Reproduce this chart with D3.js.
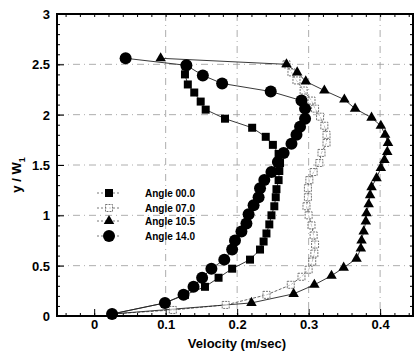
<!DOCTYPE html>
<html><head><meta charset="utf-8">
<script src="https://cdn.jsdelivr.net/npm/d3@7"></script>
<style>body{margin:0;background:#fff}svg{display:block}text{font-family:"Liberation Sans",Arial,sans-serif;font-weight:bold}</style>
</head><body>
<svg id="c" width="414" height="354"></svg>
<script>
// Data
const seriesNames = ["Angle 00.0","Angle 07.0","Angle 10.5","Angle 14.0"];
const xTicks = [0,0.1,0.2,0.3,0.4];
const xTickLabels = ["0","0.1","0.2","0.3","0.4"];
const yTicks = [0,0.5,1,1.5,2,2.5,3];
const yTickLabels = ["0","0.5","1","1.5","2","2.5","3"];

const a00x = [0.128,0.127,0.131,0.140,0.149,0.156,0.183,0.221,0.240,0.250,0.258,0.260,0.259,0.258,0.255,0.254,0.252,0.248,0.245,0.241,0.237,0.232,0.218,0.193,0.174,0.155,0.127,0.099,0.025];
const a00y = [2.48,2.40,2.30,2.22,2.13,2.05,1.96,1.87,1.78,1.70,1.61,1.52,1.44,1.35,1.26,1.18,1.09,1.00,0.91,0.82,0.74,0.66,0.56,0.47,0.38,0.29,0.21,0.13,0.02];

const a07x = [0.269,0.276,0.283,0.293,0.304,0.309,0.316,0.322,0.325,0.325,0.318,0.315,0.307,0.301,0.299,0.299,0.297,0.300,0.304,0.307,0.309,0.308,0.305,0.300,0.290,0.275,0.241,0.184,0.11,0.025];
const a07y = [2.50,2.42,2.34,2.24,2.14,2.06,1.98,1.89,1.80,1.72,1.62,1.52,1.43,1.35,1.27,1.18,1.09,1.00,0.90,0.80,0.71,0.62,0.54,0.46,0.39,0.31,0.21,0.11,0.06,0.02];

const a105x = [0.093,0.269,0.284,0.296,0.322,0.350,0.365,0.388,0.401,0.407,0.411,0.410,0.406,0.401,0.395,0.388,0.386,0.384,0.381,0.380,0.377,0.374,0.373,0.367,0.349,0.332,0.308,0.279,0.220,0.025];
const a105y = [2.56,2.50,2.42,2.33,2.24,2.15,2.06,1.97,1.89,1.80,1.72,1.63,1.55,1.47,1.37,1.28,1.20,1.11,1.02,0.94,0.84,0.75,0.67,0.57,0.48,0.40,0.31,0.22,0.13,0.02];

const a14x = [0.044,0.129,0.152,0.179,0.247,0.290,0.295,0.295,0.288,0.283,0.276,0.265,0.257,0.248,0.238,0.232,0.230,0.223,0.216,0.213,0.206,0.197,0.193,0.182,0.164,0.151,0.139,0.125,0.099,0.025];
const a14y = [2.56,2.49,2.39,2.31,2.23,2.14,2.06,1.96,1.88,1.80,1.71,1.62,1.53,1.43,1.35,1.27,1.18,1.10,1.01,0.92,0.84,0.75,0.66,0.56,0.47,0.38,0.29,0.21,0.13,0.02];

const L=57,R=413,T=14,B=316;
const x = d3.scaleLinear().domain([-0.052,0.446]).range([L,R]);
const y = d3.scaleLinear().domain([0,3]).range([B,T]);
const svg = d3.select("#c");

// grid
const g = svg.append("g");
g.selectAll(".gx").data(xTicks.filter(v=>v>0)).enter().append("line")
 .attr("x1",d=>x(d)).attr("x2",d=>x(d)).attr("y1",T).attr("y2",B)
 .attr("stroke","#999").attr("stroke-width",0.8).attr("stroke-dasharray","7,4,1,4");
g.selectAll(".gy").data(yTicks.filter(v=>v>0&&v<3)).enter().append("line")
 .attr("y1",d=>y(d)).attr("y2",d=>y(d)).attr("x1",L).attr("x2",R)
 .attr("stroke","#999").attr("stroke-width",0.8).attr("stroke-dasharray","7,4,1,4");

// axes with inside ticks
const xMinor = d3.range(-0.04,0.446,0.02);
const yMinor = d3.range(0,3.001,0.1);
const axB = svg.append("g").attr("transform",`translate(0,${B})`)
  .call(d3.axisBottom(x).tickValues(xMinor).tickSize(-3).tickFormat(""));
const axB2 = svg.append("g").attr("transform",`translate(0,${B})`)
  .call(d3.axisBottom(x).tickValues(xTicks).tickSize(-7).tickPadding(4).tickFormat((d,i)=>xTickLabels[i]));
const axT = svg.append("g").attr("transform",`translate(0,${T})`)
  .call(d3.axisTop(x).tickValues(xMinor).tickSize(-3).tickFormat(""));
const axL = svg.append("g").attr("transform",`translate(${L},0)`)
  .call(d3.axisLeft(y).tickValues(yMinor).tickSize(-3).tickFormat(""));
const axL2 = svg.append("g").attr("transform",`translate(${L},0)`)
  .call(d3.axisLeft(y).tickValues(yTicks).tickSize(-7).tickPadding(7).tickFormat((d,i)=>yTickLabels[i]));
const axR = svg.append("g").attr("transform",`translate(${R},0)`)
  .call(d3.axisRight(y).tickValues(yMinor).tickSize(-3).tickFormat(""));
[axB,axB2,axT,axL,axL2,axR].forEach(a=>{a.select(".domain").remove();a.selectAll("line").attr("stroke","#000").attr("stroke-width",1);});
axB2.selectAll("text").attr("font-size",13).attr("fill","#000").attr("font-family","Liberation Sans, Arial").attr("font-weight","bold");
axL2.selectAll("text").attr("font-size",13).attr("fill","#000").attr("font-family","Liberation Sans, Arial").attr("font-weight","bold").attr("dy","0.35em");

// frame
svg.append("rect").attr("x",L).attr("y",T).attr("width",R-L).attr("height",B-T)
 .attr("fill","none").attr("stroke","#000").attr("stroke-width",2);

// series
const line = d3.line().x(d=>x(d[0])).y(d=>y(d[1]));
const zip=(a,b)=>a.map((v,i)=>[v,b[i]]);
const S = [
 {pts:zip(a00x,a00y), type:"sq"},
 {pts:zip(a07x,a07y), type:"osq"},
 {pts:zip(a105x,a105y), type:"tri"},
 {pts:zip(a14x,a14y), type:"cir"}
];
S.forEach(s=>{
  svg.append("path").attr("d",line(s.pts)).attr("fill","none")
   .attr("stroke", s.type==="osq"?"#555":"#222").attr("stroke-width",0.9)
   .attr("stroke-dasharray", s.type==="osq"?"3,1.5":null);
});
function mark(sel,type){
  if(type==="sq") sel.append("rect").attr("x",-4).attr("y",-4).attr("width",8).attr("height",8).attr("fill","#000");
  else if(type==="osq") sel.append("rect").attr("x",-3.5).attr("y",-3.5).attr("width",7).attr("height",7).attr("fill","#fff").attr("fill-opacity",0.6).attr("stroke","#666").attr("stroke-width",0.9).attr("stroke-dasharray","2,1");
  else if(type==="tri") sel.append("path").attr("d",d3.symbol(d3.symbolTriangle,48)()).attr("fill","#000");
  else sel.append("circle").attr("r",6).attr("fill","#000");
}
S.forEach(s=>{
  svg.append("g").selectAll("g").data(s.pts).enter().append("g")
   .attr("transform",d=>`translate(${x(d[0])},${y(d[1])})`).each(function(){mark(d3.select(this),s.type);});
});

// legend
const legY=[193,208,221,236];
const types=["sq","osq","tri","cir"];
seriesNames.forEach((n,i)=>{
  svg.append("line").attr("x1",97).attr("x2",121).attr("y1",legY[i]).attr("y2",legY[i])
   .attr("stroke","#555").attr("stroke-width",0.8).attr("stroke-dasharray","2,2");
  const gg=svg.append("g").attr("transform",`translate(109,${legY[i]})`);
  mark(gg,types[i]);
  svg.append("text").attr("x",145).attr("y",legY[i]).attr("dy","0.35em").attr("font-size",10).text(n);
});

// axis titles
svg.append("text").attr("x",237).attr("y",348).attr("text-anchor","middle").attr("font-size",13).text("Velocity (m/sec)");
const yt=svg.append("text").attr("transform","translate(21,175) rotate(-90)").attr("text-anchor","middle").attr("font-size",13);
yt.append("tspan").text("y / W");
yt.append("tspan").attr("font-size",9).attr("dy",4).text("1");
</script>
</body></html>
